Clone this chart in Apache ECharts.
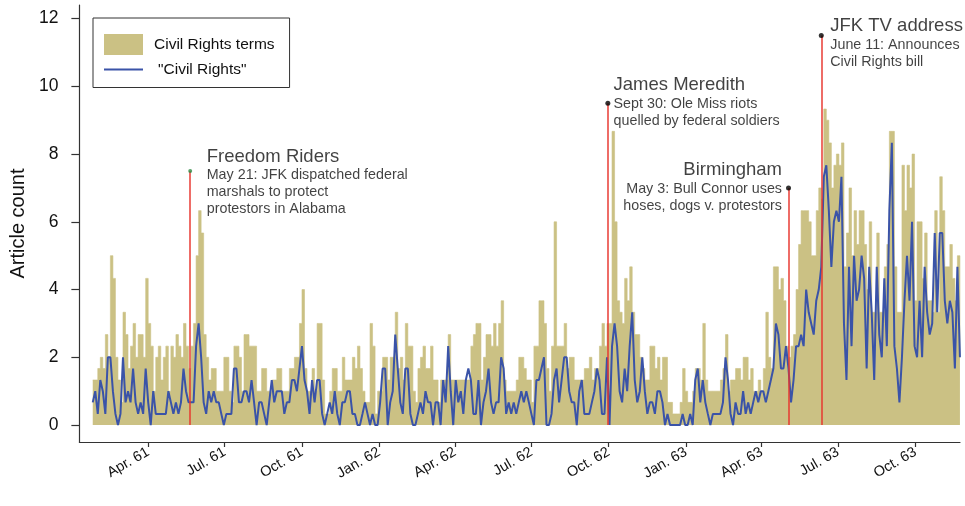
<!DOCTYPE html>
<html>
<head>
<meta charset="utf-8">
<script src="https://cdn.jsdelivr.net/npm/echarts@6/dist/echarts.min.js"></script>
<style>
  html, body { margin: 0; padding: 0; background: #fff; }
  #chart { width: 965px; height: 506px; }
</style>
</head>
<body>
<div id="chart"></div>
<script>
// Daily article counts (3-day rolling average), sampled every 3 days from 25 Jan 1961
const seriesStart = '1961-01-25';
const stepDays = 3;

// Articles using any civil-rights term
const termsCounts = [
  1.33, 1.33, 1.67, 2.0, 1.67, 2.67, 2.0, 5.0, 4.33, 2.0,
  1.33, 0.67, 3.33, 2.67, 1.67, 2.33, 3.0, 2.0, 2.67, 2.67,
  2.0, 4.33, 3.0, 2.33, 1.0, 2.0, 2.33, 1.33, 2.0, 2.33,
  1.0, 2.33, 2.0, 2.67, 2.33, 2.0, 3.0, 2.33, 1.67, 2.33,
  3.0, 5.0, 6.33, 5.67, 2.67, 2.0, 1.33, 1.67,
  1.67, 1.0, 1.0, 1.0, 2.0, 2.0, 1.0, 0.67, 2.33, 2.33,
  2.0, 1.0, 2.67, 2.67, 2.33, 2.33, 2.33, 1.0, 1.0, 1.67,
  1.67, 1.0, 1.0, 1.33, 1.33, 1.67, 1.67, 1.0, 1.0, 1.0,
  1.67, 1.67, 2.0, 2.0, 3.0, 4.0, 1.67, 1.0, 1.0, 1.67,
  1.0, 3.0, 3.0, 1.33, 0.33, 0.33, 1.0, 1.67, 1.67,
  1.0, 1.0, 2.0, 1.33, 1.33, 1.33, 2.0, 1.67, 2.33, 1.67,
  1.0, 0.67, 0.67, 3.0, 2.33, 0.33, 1.0, 1.0, 2.0, 2.0,
  1.33, 2.0, 2.0, 3.33, 1.67, 2.0, 1.33, 3.0, 2.33, 2.33,
  1.0, 0.67, 1.67, 2.0, 2.33, 1.67, 1.67, 2.33, 1.33, 1.33,
  0.67, 1.33, 1.33, 1.33, 2.67, 1.33, 1.33, 1.33, 1.33,
  1.33, 1.33, 1.33, 1.33, 2.33, 2.67, 3.0, 3.0, 1.33, 2.0,
  2.67, 2.67, 2.33, 3.0, 2.33, 3.0, 3.67, 1.33, 1.0, 1.0,
  1.0, 1.0, 1.33, 2.0, 2.0, 1.67, 1.33, 1.33, 0.67, 2.33,
  2.33, 3.67, 3.67, 3.0, 1.67, 1.0, 2.33, 6.0, 2.33, 2.33,
  2.33, 3.0, 1.67, 2.0, 2.0, 1.33, 1.33, 1.33, 1.33, 1.67,
  1.67, 2.0, 1.33, 1.67, 1.67, 2.33, 3.0, 2.33, 3.0, 3.0,
  8.67, 6.0, 3.67, 3.33, 3.0, 4.33, 3.67, 4.67, 3.33, 2.67,
  2.67, 2.0, 1.67, 1.33, 1.33, 2.33, 2.33, 1.67, 2.0, 1.33,
  2.0, 2.0, 0.67, 0.67, 0.33, 0.33, 0.33, 0.67, 1.67, 1.0,
  0.67, 0.67, 1.0, 1.67, 1.67, 1.33, 3.0, 1.33, 1.0, 1.0,
  1.0, 1.0, 1.0, 1.33, 1.67, 2.67, 1.0, 1.33, 1.33, 1.67,
  1.67, 1.33, 2.0, 2.0, 1.33, 1.67, 1.0, 1.0, 1.33, 1.0,
  1.67, 3.33, 2.0, 1.67, 4.67, 4.67, 4.0, 4.33, 3.67, 2.33,
  2.0, 2.33, 2.67, 4.0, 5.33, 6.33, 6.33, 6.33, 6.0, 5.0,
  5.0, 6.33, 7.0, 6.67, 9.33, 9.0, 8.33, 7.0, 7.67, 8.0,
  7.67, 8.33, 4.67, 5.67, 7.0, 5.0, 6.33, 5.33, 6.33, 6.33,
  5.33, 4.0, 6.0, 3.33, 3.33, 5.67, 3.33, 3.33, 4.67, 5.33,
  8.67, 8.67, 4.67, 3.33, 3.33, 7.67, 6.33, 7.67, 7.0, 8.0,
  3.67, 6.0, 6.0, 4.33, 5.67, 3.67, 3.67, 3.33, 6.33, 3.33,
  7.33, 6.33, 4.67, 4.67, 5.33, 4.33, 3.67, 5.0, 2.0
];

// Articles using the exact phrase "Civil Rights"
const phraseCounts = [
  0.67, 1.0, 0.33, 1.33, 1.0, 0.33, 2.0, 2.0, 1.0, 0.33,
  0, 0.33, 2.0, 0.67, 1.0, 0.67, 1.67, 0.67, 0.33, 0.67,
  0.33, 1.67, 0.67, 0, 1.0, 0.33, 0.33, 0.33, 0.33, 0.33,
  1.0, 0.67, 0.33, 0.67, 0.33, 0.67, 1.67, 1.0, 0.67, 0.67,
  0.67, 2.33, 3.0, 2.0, 0.67, 0.33, 1.0, 0.67,
  1.0, 0.67, 0.67, 0.33, 0, 0.33, 0.33, 0.33, 1.67, 1.67,
  0.67, 0.67, 1.0, 1.0, 0.67, 1.33, 0.67, 0, 0.67, 0.67,
  0.33, 0, 0.67, 1.33, 0.67, 1.0, 1.0, 1.0, 0.33, 0.67,
  0.67, 1.33, 1.33, 1.0, 1.67, 2.33, 1.33, 1.0, 0.33, 1.33,
  0.67, 1.33, 1.33, 0.33, 0, 0.33, 0.67, 0.33, 1.0,
  0.33, 0, 0.67, 0.67, 1.0, 1.0, 0.33, 0.33, 0, 0,
  0.33, 0.67, 0.33, 0, 0.33, 0, 0, 0.67, 1.67, 1.67,
  0, 0.67, 1.0, 2.67, 1.67, 0.67, 0.33, 1.67, 1.67, 0.33,
  0, 0, 0.33, 0.67, 0.33, 1.0, 0.67, 0.67, 0, 0.67,
  0.67, 0, 1.33, 0.67, 2.33, 1.0, 0, 1.33, 0.67,
  1.0, 0.33, 1.33, 1.67, 1.33, 0.33, 0.33, 1.33, 0, 0.67,
  1.0, 1.67, 0.67, 0.33, 0.67, 0.67, 2.0, 1.67, 0.33, 0.67,
  0.33, 0.67, 0.33, 0.67, 1.0, 0.67, 1.0, 0.67, 0.33, 0,
  1.33, 1.33, 1.67, 2.0, 0, 0, 0.33, 1.33, 1.67, 0.67,
  1.33, 2.0, 2.0, 1.0, 0.67, 0.67, 0, 1.0, 1.33, 0.33,
  0.33, 0.33, 0.67, 1.0, 1.67, 1.33, 0.33, 0.33, 2.0, 0,
  2.33, 3.0, 2.33, 1.0, 0.67, 1.67, 1.0, 2.33, 3.33, 1.33,
  0.67, 1.0, 2.0, 1.0, 0.33, 0.67, 0.67, 0.33, 1.0, 1.0,
  0.67, 0, 0.33, 0, 0, 0, 0, 0, 0.33, 0,
  0, 0.33, 0, 1.33, 1.67, 0.67, 1.33, 0.67, 0.33, 0,
  0.33, 0.33, 0.33, 0.33, 0.67, 2.0, 1.33, 0.33, 0, 0.67,
  0.33, 0.33, 1.0, 0.33, 0.67, 0.33, 0.67, 1.0, 0.67, 1.0,
  1.0, 0.67, 1.0, 1.33, 1.67, 3.0, 2.67, 1.67, 1.67, 2.33,
  1.67, 0.67, 1.33, 2.33, 2.33, 2.67, 2.33, 4.0, 3.33, 3.0,
  2.67, 3.67, 4.0, 4.67, 7.33, 7.67, 6.33, 4.67, 6.0, 6.33,
  6.0, 7.33, 3.0, 1.33, 4.67, 2.33, 5.0, 3.67, 4.0, 5.0,
  4.33, 1.67, 4.67, 3.33, 1.33, 4.67, 2.67, 2.0, 4.33, 2.33,
  6.33, 8.33, 2.33, 1.67, 0.67, 2.0, 3.67, 5.0, 3.67, 6.0,
  2.33, 2.0, 3.67, 2.0, 4.67, 3.33, 2.67, 3.0, 5.67, 3.33,
  5.67, 5.67, 3.67, 3.0, 3.67, 3.33, 1.67, 4.67, 2.0
];

// Quarterly ticks on the date axis
const tickDates = ['1961-04-01', '1961-07-01', '1961-10-01', '1962-01-01', '1962-04-01', '1962-07-01',
                   '1962-10-01', '1963-01-01', '1963-04-01', '1963-07-01', '1963-10-01'];
const tickLabels = ['Apr. 61', 'Jul. 61', 'Oct. 61', 'Jan. 62', 'Apr. 62', 'Jul. 62',
                    'Oct. 62', 'Jan. 63', 'Apr. 63', 'Jul. 63', 'Oct. 63'];
const yTicks = [0, 2, 4, 6, 8, 10, 12];

// Key events of the Kennedy years
const eventDates = ['1961-05-21', '1962-09-30', '1963-05-03', '1963-06-11'];
const eventHeights = [7.5, 9.5, 7.0, 11.5];
const eventTitles = ['Freedom Riders', 'James Meredith', 'Birmingham', 'JFK TV address'];
const eventNotes = [
  ['May 21: JFK dispatched federal', 'marshals to protect', 'protestors in Alabama'],
  ['Sept 30: Ole Miss riots', 'quelled by federal soldiers'],
  ['May 3: Bull Connor uses', 'hoses, dogs v. protestors'],
  ['June 11: Announces', 'Civil Rights bill']
];

const DAY = 86400000;
const t0 = Date.parse(seriesStart);
const toPairs = arr => arr.map((v, i) => [t0 + i * stepDays * DAY, v]);
const tickTs = tickDates.map(d => Date.parse(d));
const eventTs = eventDates.map(d => Date.parse(d));

const FONT = '"Liberation Sans", Arial, Helvetica, sans-serif';
const GOLD = '#cbc184';
const BLUE = '#3a53a8';
const RED = '#e8342c';
const INK = '#111';

// label placement relative to each event marker
const eventLabelLayout = [
  { position: [18.5, -22.3], align: 'left' },
  { position: [8.2, -25.5], align: 'left' },
  { position: [-4, -25.2], align: 'right' },
  { position: [11.5, -16.6], align: 'left' }
];
const eventDotColors = ['#2e8b45', '#000', '#000', '#000'];
const eventDotSizes = [4, 5, 5, 5];

const eventPoints = eventTs.map((t, i) => {
  const lay = eventLabelLayout[i];
  const text = ['{t|' + eventTitles[i] + '}'].concat(eventNotes[i].map(s => '{b|' + s + '}')).join('\n');
  return {
    value: [t, eventHeights[i]],
    symbolSize: eventDotSizes[i],
    itemStyle: { color: eventDotColors[i] },
    label: {
      show: true,
      formatter: text,
      position: lay.position,
      align: lay.align,
      verticalAlign: 'top',
      rich: {
        t: { fontFamily: FONT, fontSize: 18.5, lineHeight: 20, color: INK, align: lay.align },
        b: { fontFamily: FONT, fontSize: 14.3, lineHeight: 17, color: INK, align: lay.align }
      }
    }
  };
});

const eventLines = eventTs.map((t, i) => [
  { coord: [t, 0] },
  { coord: [t, eventHeights[i]] }
]);

const chart = echarts.init(document.getElementById('chart'), null, { renderer: 'canvas' });

chart.setOption({
  animation: false,
  backgroundColor: '#fff',
  textStyle: { fontFamily: FONT },
  grid: { left: 78, right: 5, top: 5, bottom: 64 },
  legend: {
    left: 93,
    top: 18,
    orient: 'vertical',
    padding: [16, 15, 10, 11],
    itemGap: 6.5,
    itemWidth: 39,
    itemHeight: 21,
    borderColor: '#333',
    borderWidth: 1,
    selectedMode: false,
    textStyle: { fontFamily: FONT, fontSize: 15.5, color: INK, padding: [0, 0, 0, 6] },
    data: [
      { name: 'Civil Rights terms', icon: 'rect' },
      { name: '"Civil Rights"', icon: 'path://M0 0H39V2H0Z', textStyle: { padding: [0, 0, 0, 10] } }
    ]
  },
  xAxis: {
    type: 'value',
    min: Date.parse('1961-01-09T02:00:00Z'),
    max: Date.parse('1963-11-23T02:00:00Z'),
    splitLine: { show: false },
    axisLine: { show: true, onZero: false, lineStyle: { color: '#333', width: 1.2 } },
    axisTick: { show: true, customValues: tickTs, length: 5, lineStyle: { color: '#333', width: 1.2 } },
    axisLabel: {
      customValues: tickTs,
      rotate: 30,
      margin: 9,
      fontFamily: FONT,
      fontSize: 14.5,
      color: INK,
      formatter: v => {
        const k = tickTs.indexOf(v);
        return k >= 0 ? tickLabels[k] : '';
      }
    }
  },
  yAxis: {
    type: 'value',
    min: -0.5,
    max: 12.4,
    name: 'Article count',
    nameLocation: 'middle',
    nameGap: 50,
    nameTextStyle: { fontFamily: FONT, fontSize: 20, color: INK },
    splitLine: { show: false },
    axisLine: { show: true, onZero: false, lineStyle: { color: '#333', width: 1.2 } },
    axisTick: { show: true, customValues: yTicks, length: 8, lineStyle: { color: '#333', width: 1.2 } },
    axisLabel: { customValues: yTicks, margin: 21, fontFamily: FONT, fontSize: 17.5, color: INK }
  },
  series: [
    {
      name: 'Civil Rights terms',
      type: 'line',
      step: 'end',
      symbol: 'none',
      z: 1,
      color: GOLD,
      lineStyle: { width: 0.6, color: GOLD },
      areaStyle: { color: GOLD, opacity: 1 },
      data: toPairs(termsCounts)
    },
    {
      name: 'event markers',
      type: 'line',
      symbol: 'none',
      z: 2,
      data: [],
      markLine: {
        silent: true,
        symbol: 'none',
        label: { show: false },
        lineStyle: { color: RED, width: 1.6, type: 'solid', opacity: 0.9 },
        data: eventLines
      }
    },
    {
      name: '"Civil Rights"',
      type: 'line',
      symbol: 'none',
      z: 3,
      color: BLUE,
      lineStyle: { width: 2, color: BLUE },
      data: toPairs(phraseCounts)
    },
    {
      name: 'events',
      type: 'scatter',
      z: 5,
      symbol: 'circle',
      data: eventPoints
    }
  ]
});
</script>
</body>
</html>
